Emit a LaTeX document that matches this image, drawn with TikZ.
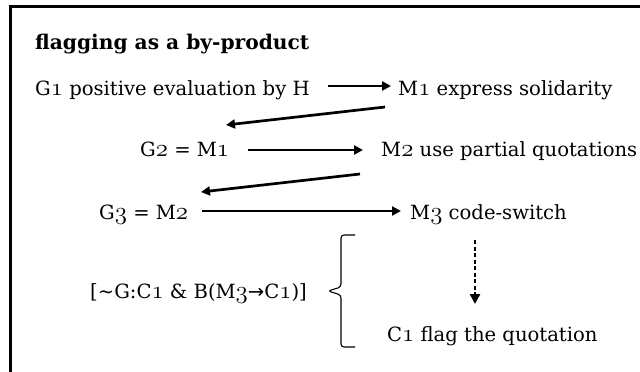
\documentclass[tikz,border=0pt]{standalone}
\usepackage{fontspec}
\setmainfont{DejaVu Serif}
\newfontfamily\symfont{DejaVu Sans}
\usetikzlibrary{arrows.meta}
% old-style figures taken from the math italic font
\newcommand\osn[1]{{\usefont{OML}{cmm}{m}{it}\fontsize{24.88}{28}\selectfont #1}}
\tikzset{
  txt/.style={anchor=base west, inner sep=0pt, font=\fontsize{19.6}{23}\selectfont},
  ttl/.style={anchor=base west, inner sep=0pt, font=\fontsize{20.2}{23}\selectfont\bfseries},
  arr/.style={-{Triangle[length=9pt,width=9pt]}, line width=2.7pt},
  darr/.style={-{Triangle[length=10pt,width=10pt]}, line width=2.8pt, dash pattern=on 4pt off 2.5pt},
  frame/.style={line width=3pt},
  brace/.style={line width=1.1pt, rounded corners=3pt},
}
\begin{document}
\begin{tikzpicture}[x=1pt,y=-1pt]
\useasboundingbox (0,0) rectangle (640,372);
% open frame: top edge and left edge
\draw[frame] (641,6.5) -- (10.7,6.5) -- (10.7,373);

\node[ttl] (title) at (35,49) {flagging as a by-product};

\node[txt] (g1) at (35,95)  {G\osn{1} positive evaluation by H};
\node[txt] (m1) at (398,95) {M\osn{1} express solidarity};
\node[txt] (g2) at (140,156) {G\osn{2} = M\osn{1}};
\node[txt] (m2) at (381,156) {M\osn{2} use partial quotations};
\node[txt] (g3) at (99,219)  {G\osn{3} = M\osn{2}};
\node[txt] (m3) at (410,219) {M\osn{3} code-switch};
\node[txt] (cond) at (90,298) {[\textasciitilde G:C\osn{1} \& B(M\osn{3}{\symfont →}C\osn{1})]};
\node[txt] (c1) at (387,341) {C\osn{1} flag the quotation};

% goal -> means
\draw[arr] ([xshift=18pt,yshift=9pt]g1.base east) -- ([xshift=-7pt,yshift=9pt]m1.base west);
\draw[arr] ([xshift=19pt,yshift=6pt]g2.base east) -- ([xshift=-18pt,yshift=6pt]m2.base west);
\draw[arr] ([xshift=14pt,yshift=8pt]g3.base east) -- ([xshift=-9pt,yshift=8pt]m3.base west);

% means become the next goal
\coordinate (d1s) at (385,107);
\coordinate (d1e) at (226,125);
\coordinate (d2s) at (360,174);
\coordinate (d2e) at (201,192);
\draw[arr] (d1s) -- (d1e);
\draw[arr] (d2s) -- (d2e);

% side effect
\coordinate (ds) at (475,240);
\coordinate (de) at (475,304);
\draw[darr] (ds) -- (de);

% brace grouping the condition
\draw[brace] (355,235) -- (341,235) -- (341,287) -- (328,291) -- (341,295) -- (341,347) -- (355,347);
\end{tikzpicture}
\end{document}
